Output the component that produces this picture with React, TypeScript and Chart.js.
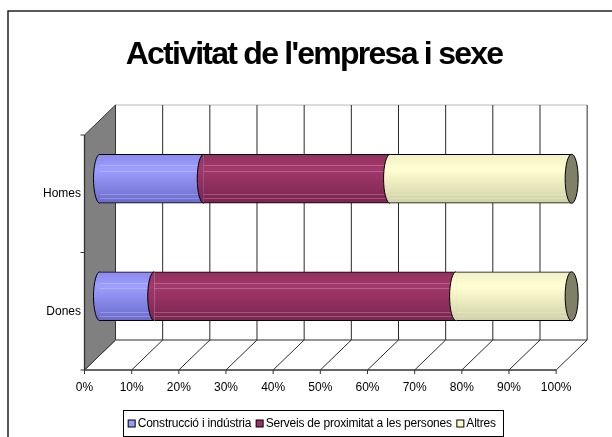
import React, { useEffect, useRef } from 'react';
import { Chart, registerables } from 'chart.js';

Chart.register(...registerables);

const FONT = '"Liberation Sans", Arial, sans-serif';
Chart.defaults.font.family = FONT;

// ---- data ----
const chartTitle = "Activitat de l'empresa i sexe";
const categories = ['Homes', 'Dones'];
const seriesNames = ['Construcció i indústria', 'Serveis de proximitat a les persones', 'Altres'];
const construccio = [22, 11.5];
const serveis = [39.5, 64];
const altres = [38.5, 24.5];
const xTickValues = [0, 10, 20, 30, 40, 50, 60, 70, 80, 90, 100];

// ---- styles ----
const baseColors = ['#9999FF', '#993366', '#FFFFCC'];
const gradColors = [
  ['#8a8af0', '#9e9eff', '#6a6acb'],
  ['#92305e', '#a3386b', '#7a2550'],
  ['#f0f0c4', '#ffffd2', '#d0d0a6'],
];
const capColor = '#808066';
const BAR_T = 49;
const RX = 6.5;
const DX = 15.5;
const DY = 15;
const STRIPES = [0.22, 0.34, 0.82, 0.9];

function makeBg(i: number) {
  return (ctx: any) => {
    const chart = ctx.chart;
    const ys = chart.scales && chart.scales.y;
    if (ctx.type !== 'data' || !chart.chartArea || !ys) return baseColors[i];
    const yc = ys.getPixelForValue(ctx.dataIndex);
    const h = BAR_T / 2;
    const g = chart.ctx.createLinearGradient(0, yc - h, 0, yc + h);
    g.addColorStop(0, gradColors[i][0]);
    g.addColorStop(0.3, gradColors[i][1]);
    g.addColorStop(1, gradColors[i][2]);
    return g;
  };
}

const seriesValues = [construccio, serveis, altres];

const deco3d = {
  id: 'deco3d',
  beforeDraw(chart: any) {
    const c = chart.ctx;
    c.save();
    c.strokeStyle = '#222';
    c.lineWidth = 1.5;
    c.beginPath();
    c.moveTo(8, chart.height + 5);
    c.lineTo(8, 11);
    c.lineTo(chart.width + 5, 11);
    c.stroke();
    // title
    c.letterSpacing = '-1.75px';
    c.font = 'bold 32px ' + FONT;
    c.fillStyle = '#000';
    c.textAlign = 'center';
    c.textBaseline = 'alphabetic';
    c.fillText(chartTitle, 314, 64);
    c.restore();
  },
  beforeDatasetsDraw(chart: any) {
    const c = chart.ctx;
    const xs = chart.scales.x;
    const a = chart.chartArea;
    const fx = (v: number) => xs.getPixelForValue(v) - DX;
    const bx = (v: number) => xs.getPixelForValue(v) + DX;
    const fTop = a.top + DY, fBot = a.bottom + DY, bTop = a.top - DY, bBot = a.bottom - DY;
    const line = (x1: number, y1: number, x2: number, y2: number) => {
      c.beginPath();
      c.moveTo(x1, y1);
      c.lineTo(x2, y2);
      c.stroke();
    };
    const first = xTickValues[0];
    const last = xTickValues[xTickValues.length - 1];
    c.save();
    c.lineWidth = 1;
    c.strokeStyle = '#b8b8b8';
    line(bx(first), bTop, bx(last), bTop);
    c.strokeStyle = '#2a2a2a';
    xTickValues.forEach((v) => {
      if (v !== first) line(bx(v), bTop, bx(v), bBot);
    });
    line(bx(first), bBot, bx(last), bBot);
    xTickValues.forEach((v) => line(fx(v), fBot, bx(v), bBot));
    c.strokeStyle = '#333';
    c.lineWidth = 1.3;
    line(fx(first), fBot, fx(last), fBot);
    c.lineWidth = 1;
    xTickValues.forEach((v) => line(fx(v), fBot, fx(v), fBot + 4));
    // left wall
    c.fillStyle = '#808080';
    c.strokeStyle = '#333';
    c.beginPath();
    c.moveTo(fx(first), fTop);
    c.lineTo(bx(first), bTop);
    c.lineTo(bx(first), bBot);
    c.lineTo(fx(first), fBot);
    c.closePath();
    c.fill();
    c.stroke();
    c.lineWidth = 1.3;
    line(fx(first), fTop, fx(first), fBot);
    c.lineWidth = 1;
    const n = categories.length;
    for (let j = 0; j <= n; j++) {
      const yb = a.top + (a.bottom - a.top) * (j / n) + DY;
      line(fx(first) - 4, yb, fx(first), yb);
    }
    c.restore();
  },
  afterDatasetsDraw(chart: any) {
    const c = chart.ctx;
    const metas = chart.data.datasets.map((_: any, i: number) => chart.getDatasetMeta(i));
    c.save();
    for (let j = 0; j < categories.length; j++) {
      for (let k = 0; k < metas.length; k++) {
        const el: any = metas[k].data[j];
        if (!el) continue;
        const p = el.getProps(['x', 'y', 'base', 'height'], true);
        const left = Math.min(p.x, p.base);
        const right = Math.max(p.x, p.base);
        const ry = p.height / 2;
        const top = p.y - ry;
        // light stripes
        c.strokeStyle = 'rgba(255,255,255,0.22)';
        c.lineWidth = 1;
        STRIPES.forEach((f) => {
          const yy = Math.round(top + f * p.height) + 0.5;
          c.beginPath();
          c.moveTo(left, yy);
          c.lineTo(right, yy);
          c.stroke();
        });
        // left half-ellipse
        c.beginPath();
        c.ellipse(left, p.y, RX, ry, 0, Math.PI / 2, (Math.PI * 3) / 2);
        c.closePath();
        c.fillStyle = el.options.backgroundColor;
        c.fill();
        c.strokeStyle = '#000';
        c.lineWidth = 1;
        c.beginPath();
        c.ellipse(left, p.y, RX, ry, 0, Math.PI / 2, (Math.PI * 3) / 2);
        c.stroke();
        if (k === metas.length - 1) {
          c.beginPath();
          c.ellipse(right, p.y, RX, ry, 0, 0, Math.PI * 2);
          c.fillStyle = capColor;
          c.fill();
          c.stroke();
        }
      }
    }
    c.restore();
  },
  afterDraw(chart: any) {
    const c = chart.ctx;
    c.save();
    c.letterSpacing = '-0.2px';
    c.font = '12px ' + FONT;
    const box = 7, gapT = 2.5, gapI = 5, padL = 5, padR = 7;
    const ds = chart.data.datasets;
    const widths = ds.map((d: any) => c.measureText(d.label).width);
    let total = padL + padR;
    widths.forEach((w: number, i: number) => {
      total += box + gapT + w + (i < widths.length - 1 ? gapI : 0);
    });
    const cx = 313;
    const left = cx - total / 2;
    const top = 410, bottom = 436;
    const mid = (top + bottom) / 2;
    c.strokeStyle = '#000';
    c.lineWidth = 1;
    c.strokeRect(Math.round(left) + 0.5, top + 0.5, Math.round(total), bottom - top);
    let x = left + padL;
    c.textBaseline = 'middle';
    c.textAlign = 'left';
    ds.forEach((d: any, i: number) => {
      c.fillStyle = baseColors[i];
      c.fillRect(x, mid - box / 2 + 0.5, box, box);
      c.strokeRect(x, mid - box / 2 + 0.5, box, box);
      x += box + gapT;
      c.fillStyle = '#000';
      c.fillText(d.label, x, mid + 1);
      x += widths[i] + gapI;
    });
    c.restore();
  },
};

export default function App() {
  const ref = useRef<HTMLCanvasElement>(null);
  useEffect(() => {
    const datasets = seriesNames.map((name, i) => ({
      label: name,
      data: seriesValues[i],
      backgroundColor: makeBg(i),
      borderColor: '#000',
      borderWidth: { top: 1, bottom: 1, left: 0, right: 0 },
      borderSkipped: false as any,
      barThickness: BAR_T,
    }));
    const chart = new Chart(ref.current as HTMLCanvasElement, {
      type: 'bar',
      data: { labels: categories, datasets },
      plugins: [deco3d],
      options: {
        indexAxis: 'y',
        animation: false,
        responsive: false,
        layout: { padding: { left: 38, right: 40, top: 120, bottom: 0 } },
        plugins: {
          legend: { display: false },
          tooltip: { enabled: false },
          title: { display: false },
        },
        scales: {
          x: {
            type: 'linear',
            stacked: true,
            min: 0,
            max: 100,
            afterBuildTicks: (s: any) => {
              s.ticks = xTickValues.map((v) => ({ value: v }));
            },
            afterFit: (s: any) => {
              s.height = 82;
            },
            grid: { display: false, drawTicks: false },
            border: { display: false },
            ticks: {
              color: '#000',
              font: { size: 12, family: FONT },
              padding: 25,
              labelOffset: -DX,
              maxRotation: 0,
              autoSkip: false,
              callback: (v: any) => v + '%',
            },
          },
          y: {
            stacked: true,
            afterFit: (s: any) => {
              s.width = 62;
            },
            grid: { display: false, drawTicks: false },
            border: { display: false },
            ticks: {
              color: '#000',
              font: { size: 12, family: FONT },
              padding: 19,
              labelOffset: DY,
            },
          },
        },
      },
    });
    return () => chart.destroy();
  }, []);
  return (
    <div style={{ position: 'absolute', left: 0, top: 0, width: 612, height: 437 }}>
      <canvas ref={ref} width={612} height={437} style={{ display: 'block' }} />
    </div>
  );
}
